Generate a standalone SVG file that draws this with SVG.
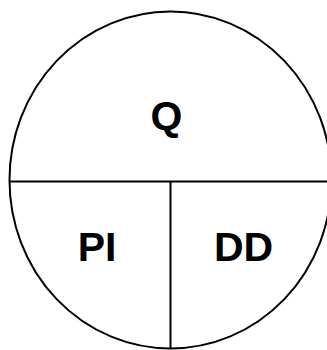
<svg xmlns="http://www.w3.org/2000/svg" width="327" height="350" viewBox="0 0 327 350">
<style>
.ln{fill:none;stroke:#000;stroke-width:2}
.t{font-family:"Liberation Sans",Arial,sans-serif;font-weight:bold;font-size:41px;fill:#000;text-anchor:middle}
</style>
<rect width="327" height="350" fill="#fff"/>
<g id="shape">
<ellipse class="ln" cx="170.5" cy="180" rx="161" ry="168.5"/>
<line class="ln" x1="10" y1="181.5" x2="327" y2="181.5"/>
<line class="ln" x1="170.5" y1="181.5" x2="170.5" y2="349"/>
</g>
<g id="Q"><text class="t" x="166.5" y="130">Q</text></g>
<g id="PI"><text class="t" x="97" y="261">PI</text></g>
<g id="DD"><text class="t" x="243.5" y="261">DD</text></g>
</svg>
